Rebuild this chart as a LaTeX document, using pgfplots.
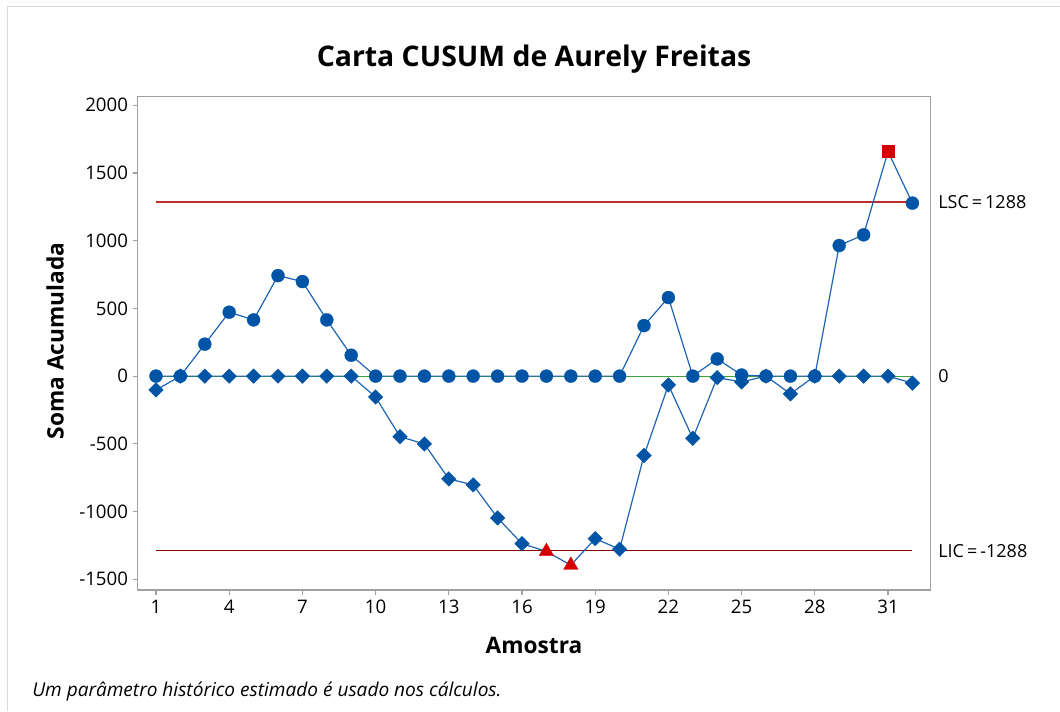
\documentclass[border=0pt]{standalone}
\usepackage{pgfplots}
\pgfplotsset{compat=1.18}
\usepackage{fontspec}
\setmainfont{Open Sans}
\definecolor{mtblue}{RGB}{0,84,166}
\definecolor{mtline}{RGB}{30,100,180}
\definecolor{mtred}{RGB}{210,0,0}
\definecolor{lclred}{RGB}{130,0,0}
\definecolor{uclred}{RGB}{185,45,45}
\definecolor{cgreen}{RGB}{60,160,60}
\definecolor{axgray}{RGB}{160,160,160}
\begin{document}
\begin{tikzpicture}[x=0.75pt,y=0.75pt]
\path[use as bounding box] (0,0) rectangle (1060,711);
\draw[gray!30,line width=0.75pt] (7,0) -- (7,704) -- (1060,704);
\begin{axis}[
  at={(103.275pt,90.75pt)}, anchor=south west,
  scale only axis, width=594.75pt, height=370.3pt,
  xmin=0.25, xmax=32.75, ymin=-1579, ymax=2066,
  xtick={1,4,...,31},
  ytick={-1500,-1000,-500,0,500,1000,1500,2000},
  yticklabels={-1500,-1000,-500,0,500,1000,1500,2000},
  axis line style={axgray, line width=0.9pt},
  tick style={axgray, line width=0.9pt},
  tick align=outside, major tick length=3.75pt,
  xtick pos=bottom, ytick pos=left,
  tick label style={font=\fontsize{14}{17}\selectfont, text=black},
  /pgf/number format/assume math mode=true,
  clip=false,
]
% control lines
\addplot[color=cgreen, line width=0.9pt] coordinates {(1,0) (32,0)};
\addplot[color=lclred, line width=1pt] coordinates {(1,-1288) (32,-1288)};
\addplot[color=uclred, line width=1.3pt] coordinates {(1,1288) (32,1288)};
% upper CUSUM line
\addplot[draw=mtline, line width=0.9pt] coordinates {
(1,0) (2,0) (3,236) (4,472) (5,415) (6,742) (7,698) (8,415) (9,154) (10,0)
(11,0) (12,0) (13,0) (14,0) (15,0) (16,0) (17,0) (18,0) (19,0) (20,0)
(21,373) (22,580) (23,0) (24,127) (25,8) (26,0) (27,0) (28,0) (29,964) (30,1043)
(31,1658) (32,1277)};
% lower CUSUM line
\addplot[draw=mtline, line width=0.9pt] coordinates {
(1,-102) (2,0) (3,0) (4,0) (5,0) (6,0) (7,0) (8,0) (9,0) (10,-154)
(11,-447) (12,-501) (13,-759) (14,-803) (15,-1047) (16,-1237) (17,-1294) (18,-1396) (19,-1200) (20,-1278)
(21,-586) (22,-65) (23,-459) (24,-11) (25,-43) (26,0) (27,-131) (28,0) (29,0) (30,0)
(31,0) (32,-52)};
% upper CUSUM marks (in control)
\addplot[mtblue, only marks, mark=*, mark size=4.9pt, mark options={draw=mtblue, fill=mtblue, line width=0.2pt}] coordinates {
(1,0) (2,0) (3,236) (4,472) (5,415) (6,742) (7,698) (8,415) (9,154) (10,0)
(11,0) (12,0) (13,0) (14,0) (15,0) (16,0) (17,0) (18,0) (19,0) (20,0)
(21,373) (22,580) (23,0) (24,127) (25,8) (26,0) (27,0) (28,0) (29,964) (30,1043)
(32,1277)};
% lower CUSUM marks (in control)
\addplot[mtblue, only marks, mark=square*, mark size=3.9pt, mark options={draw=mtblue, fill=mtblue, line width=0.2pt, rotate=45}] coordinates {
(1,-102) (2,0) (3,0) (4,0) (5,0) (6,0) (7,0) (8,0) (9,0) (10,-154)
(11,-447) (12,-501) (13,-759) (14,-803) (15,-1047) (16,-1237) (19,-1200) (20,-1278)
(21,-586) (22,-65) (23,-459) (24,-11) (25,-43) (26,0) (27,-131) (28,0) (29,0) (30,0)
(31,0) (32,-52)};
% out-of-control points
\addplot[mtred, only marks, mark=square*, mark size=4.5pt, mark options={draw=mtred, fill=mtred, line width=0.2pt}] coordinates {(31,1658)};
\addplot[mtred, only marks, mark=triangle*, mark size=6.3pt, mark options={draw=mtred, fill=mtred, line width=0.2pt}] coordinates {(17,-1294) (18,-1396)};
% right labels
\node[anchor=west, inner sep=0pt, font=\fontsize{13.5}{16}\selectfont, xshift=5.5pt] at (axis cs:32.75,1288) {LSC\,=\,1288};
\node[anchor=west, inner sep=0pt, font=\fontsize{13.5}{16}\selectfont, xshift=5.5pt] at (axis cs:32.75,0) {0};
\node[anchor=west, inner sep=0pt, font=\fontsize{13.5}{16}\selectfont, xshift=5.5pt] at (axis cs:32.75,-1288) {LIC\,=\,-1288};
\end{axis}
\node[anchor=base, font=\fontsize{21.3}{25}\selectfont\bfseries] at (534,644.3) {Carta CUSUM de Aurely Freitas};
\node[anchor=base, font=\fontsize{17}{20}\selectfont\bfseries] at (534,58) {Amostra};
\node[rotate=90, font=\fontsize{17}{20}\selectfont\bfseries] at (55,370) {Soma Acumulada};
\node[anchor=base west, inner sep=0pt, font=\fontsize{14.3}{17}\selectfont\itshape] at (32,14.3) {Um parâmetro histórico estimado é usado nos cálculos.};
\end{tikzpicture}
\end{document}
